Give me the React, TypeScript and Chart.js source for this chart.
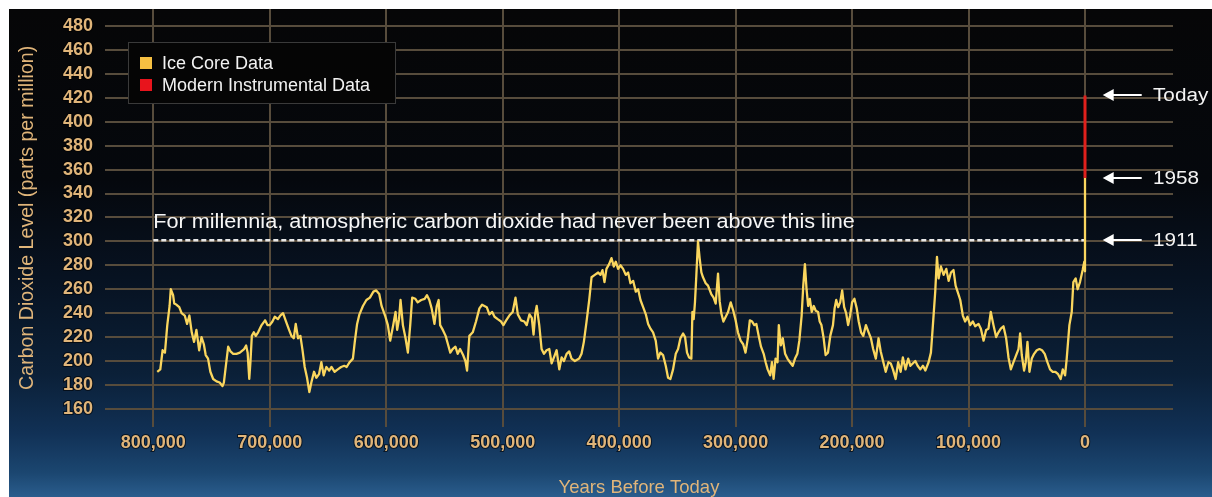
import React, { useEffect, useRef } from "react";
import { Chart, registerables } from "chart.js";

Chart.register(...registerables);

// ---------- DATA ----------
const iceYears = [
  796600, 794000, 792000, 790000, 788000, 786000, 785000, 783000, 782000, 780000,
  777700, 775700, 773000, 771000, 769000, 767000, 765000, 763000, 760600, 758600,
  756600, 755000, 753000, 751000, 748600, 745700, 743000, 740600, 739400, 737700,
  735700, 733700, 731400, 728600, 725700, 722000, 720300, 719000, 717600, 716600,
  715400, 713700, 712000, 710000, 707000, 704000, 702000, 700000, 697700, 695700,
  693000, 691000, 688600, 686000, 683400, 681400, 679400, 677700, 675700, 673700,
  672000, 670000, 668000, 666000, 664300, 662000, 660000, 657700, 655700, 653700,
  651400, 649000, 647000, 644300, 641600, 638700, 636000, 634000, 631400, 628600,
  627000, 625000, 623000, 620000, 617000, 614000, 611000, 608600, 606000, 604000,
  601000, 598600, 596600, 594000, 592000, 590600, 589000, 587700, 585700, 583400,
  581400, 579400, 577700, 575000, 573000, 570000, 567000, 565000, 563000, 561000,
  558600, 556600, 555000, 553700, 551400, 549000, 547000, 545000, 543000, 540600,
  538600, 536600, 534000, 532000, 530600, 528600, 525700, 522900, 520000, 517700,
  515700, 513700, 511400, 509000, 507000, 504300, 501400, 499400, 497000, 494300,
  491400, 489000, 487000, 484300, 481400, 479400, 477000, 475000, 473500, 472000,
  470800, 468600, 466600, 464600, 462300, 460000, 458000, 456000, 453700, 451400,
  449400, 447400, 445100, 442900, 440900, 438000, 434300, 432300, 430300, 428000,
  425700, 423700, 420900, 418000, 416000, 414300, 412600, 410900, 408600, 406600,
  404600, 402900, 400900, 398900, 396600, 394300, 392300, 390300, 388000, 385700,
  383700, 381700, 379400, 377100, 375100, 373100, 370900, 368600, 366600, 364600,
  362300, 360000, 358000, 356000, 353700, 351400, 349400, 347400, 345100, 343400,
  341700, 340000, 338000, 337100, 336000, 334900, 333700, 332300, 330900, 329400,
  328000, 325700, 323700, 320900, 318900, 317100, 315100, 313700, 312300, 310500,
  308500, 306500, 304200, 302000, 300000, 298000, 295700, 293500, 291500, 289500,
  287800, 285800, 283900, 282200, 280200, 278200, 275900, 274200, 272500, 270300,
  268800, 267400, 265700, 264000, 262900, 261200, 259500, 257500, 255500, 253300,
  251000, 249000, 247000, 245300, 243300, 241900, 240500, 239100, 237700, 236300,
  234600, 232900, 231200, 229200, 227800, 226300, 224400, 222700, 220700, 218700,
  216400, 215000, 213600, 211900, 210200, 208500, 206800, 205100, 203400, 201700,
  200000, 198000, 196000, 194300, 192300, 190400, 188100, 185800, 183800, 181900,
  179600, 177300, 175400, 173400, 171100, 168800, 166800, 164900, 162600, 160400,
  158300, 156400, 154100, 151800, 149900, 145700, 143700, 141400, 139100, 137100,
  134300, 132300, 130600, 128600, 127100, 125700, 123700, 121400, 119100, 117100,
  115100, 112900, 111100, 109400, 107100, 104900, 102900, 100900, 98600, 96300,
  94300, 91400, 89400, 87100, 84900, 82900, 80900, 78600, 76300, 74300,
  72300, 70000, 67700, 65700, 63700, 61400, 59100, 57100, 55700, 54300,
  52300, 50900, 49400, 47700, 45700, 43700, 41400, 39100, 36900, 34600,
  32300, 30000, 27700, 25400, 23100, 20900, 19100, 17100, 15700, 13400,
  11400, 10000, 8000, 6300, 4300, 2000, 600, 0, 0,
];
const icePpm = [
  191, 193, 209, 207, 230, 246, 260, 255, 248, 247,
  245, 240, 238, 231, 238, 224, 216, 226, 209, 220,
  214, 205, 202, 191, 185, 183, 182, 179, 182, 196,
  212, 208, 206, 206, 207, 210, 213, 207, 185, 199,
  221, 224, 221, 224, 230, 234, 230, 230, 233, 237,
  235, 238, 240, 233, 226, 221, 219, 231, 219, 221,
  210, 195, 186, 174, 182, 191, 186, 189, 199, 188,
  195, 192, 195, 191, 193, 195, 196, 195, 199, 202,
  216, 231, 239, 246, 251, 253, 258, 259, 256, 246,
  238, 230, 217, 230, 241, 226, 235, 251, 230, 219,
  207, 230, 253, 252, 249, 251, 252, 255, 251, 244,
  231, 246, 251, 230, 226, 221, 214, 207, 210, 212,
  206, 210, 205, 200, 192, 221, 224, 233, 244, 247,
  246, 245, 239, 241, 237, 235, 233, 230, 234, 238,
  241, 253, 239, 234, 233, 230, 239, 236, 222, 240,
  246, 230, 210, 206, 209, 210, 198, 203, 209, 193,
  203, 200, 206, 208, 202, 200, 202, 206, 216, 233,
  251, 270, 272, 274, 272, 276, 266, 277, 281, 286,
  279, 283, 277, 280, 277, 272, 274, 265, 267, 258,
  260, 251, 245, 239, 231, 227, 224, 217, 202, 207,
  205, 196, 186, 185, 193, 206, 210, 219, 223, 220,
  207, 203, 202, 241, 235, 249, 272, 300, 286, 274,
  270, 265, 263, 256, 253, 248, 273, 250, 240, 233,
  237, 241, 249, 242, 234, 224, 217, 214, 207, 219,
  234, 233, 230, 231, 221, 212, 206, 199, 193, 188,
  199, 185, 202, 199, 230, 213, 219, 206, 202, 199,
  196, 202, 206, 217, 238, 263, 281, 260, 246, 252,
  241, 246, 242, 241, 233, 230, 219, 205, 207, 221,
  230, 244, 251, 245, 249, 259, 245, 240, 230, 238,
  249, 252, 244, 233, 224, 221, 230, 224, 219, 210,
  202, 219, 208, 200, 191, 199, 198, 193, 185, 199,
  191, 203, 193, 202, 196, 200, 196, 193, 196, 192,
  199, 207, 230, 258, 287, 269, 279, 272, 277, 267,
  274, 276, 263, 258, 251, 238, 233, 237, 230, 233,
  229, 231, 227, 217, 226, 227, 241, 230, 220, 224,
  227, 229, 219, 203, 193, 199, 205, 210, 223, 205,
  192, 199, 216, 191, 202, 206, 209, 210, 209, 206,
  199, 193, 191, 191, 189, 185, 193, 188, 202, 230,
  241, 266, 269, 260, 266, 276, 283, 275, 353,
];
const modernYears = [0, 0];
const modernPpm = [353, 422];
const thresholdYears = [800000, 0];
const thresholdPpm = [301, 301];

const yTickValues = [160, 180, 200, 220, 240, 260, 280, 300, 320, 340, 360, 380, 400, 420, 440, 460, 480];
const xTickValues = [800000, 700000, 600000, 500000, 400000, 300000, 200000, 100000, 0];

const markerLabels = ["Today", "1958", "1911"];
const markerPpm = [422, 353, 301];

const noteText = "For millennia, atmospheric carbon dioxide had never been above this line";
const xTitle = "Years Before Today";
const yTitle = "Carbon Dioxide Level (parts per million)";
const seriesLabels = ["Ice Core Data", "Modern Instrumental Data"];

// ---------- STYLE ----------
const FONT = "'Liberation Sans', Arial, Helvetica, sans-serif";
const TAN = "#e0b57a";
const GRID = "#574c3c";
const YELLOW = "#fad65e";
const RED = "#e0201c";
const W = 1203;
const H = 488;

const toPoints = (xs: number[], ys: number[]) => xs.map((x, i) => ({ x, y: ys[i] }));

const backgroundPlugin = {
  id: "bgGradient",
  beforeDraw(chart: any) {
    const { ctx, width, height } = chart;
    const g = ctx.createLinearGradient(0, 0, 0, height);
    g.addColorStop(0, "#060607");
    g.addColorStop(0.35, "#05080d");
    g.addColorStop(0.55, "#071221");
    g.addColorStop(0.75, "#0b2038");
    g.addColorStop(0.87, "#113156");
    g.addColorStop(0.95, "#1b4670");
    g.addColorStop(1, "#2a5d8d");
    ctx.save();
    ctx.fillStyle = g;
    ctx.fillRect(0, 0, width, height);
    ctx.restore();
  },
};

const drawScaledText = (ctx: any, text: string, x: number, y: number, sx: number) => {
  ctx.save();
  ctx.translate(x, y);
  ctx.scale(sx, 1);
  ctx.fillText(text, 0, 0);
  ctx.restore();
};

const annotationPlugin = {
  id: "annotations",
  afterDatasetsDraw(chart: any) {
    const { ctx } = chart;
    const xs = chart.scales.x;
    const ys = chart.scales.y;
    ctx.save();
    ctx.fillStyle = "#f6f6f6";
    ctx.font = `19.5px ${FONT}`;
    ctx.textBaseline = "middle";
    ctx.textAlign = "left";
    drawScaledText(ctx, noteText, xs.getPixelForValue(800000), ys.getPixelForValue(315.6), 1.11);

    const tipX = xs.getPixelForValue(-15200);
    const tailX = xs.getPixelForValue(-48700);
    const textX = xs.getPixelForValue(-58400);
    ctx.font = `18px ${FONT}`;
    markerLabels.forEach((lab, i) => {
      const y = Math.round(ys.getPixelForValue(markerPpm[i]));
      ctx.strokeStyle = "#ffffff";
      ctx.fillStyle = "#ffffff";
      ctx.lineWidth = 2;
      ctx.beginPath();
      ctx.moveTo(tipX + 8, y);
      ctx.lineTo(tailX, y);
      ctx.stroke();
      ctx.beginPath();
      ctx.moveTo(tipX, y);
      ctx.lineTo(tipX + 11, y - 6);
      ctx.lineTo(tipX + 11, y + 6);
      ctx.closePath();
      ctx.fill();
      ctx.fillStyle = "#f4f4f4";
      drawScaledText(ctx, lab, textX, y + 1, 1.15);
    });
    ctx.restore();
  },
  afterDraw(chart: any) {
    const { ctx } = chart;
    const bx = 119, by = 33, bw = 268, bh = 62;
    ctx.save();
    ctx.fillStyle = "#050505";
    ctx.fillRect(bx, by, bw, bh);
    ctx.strokeStyle = "#3a3a3a";
    ctx.lineWidth = 1;
    ctx.strokeRect(bx + 0.5, by + 0.5, bw - 1, bh - 1);
    const colors = ["#f6c042", "#e8141c"];
    ctx.font = `18px ${FONT}`;
    ctx.textBaseline = "middle";
    ctx.textAlign = "left";
    seriesLabels.forEach((lab, i) => {
      const cy = by + 21 + i * 22;
      ctx.fillStyle = colors[i];
      ctx.fillRect(bx + 12, cy - 6, 12, 12);
      ctx.fillStyle = "#f2f2f2";
      ctx.fillText(lab, bx + 34, cy + 1);
    });
    ctx.restore();
  },
};

export default function App() {
  const canvasRef = useRef<HTMLCanvasElement | null>(null);

  useEffect(() => {
    document.body.style.overflow = "hidden";
    const canvas = canvasRef.current;
    if (!canvas) return;
    const chart = new Chart(canvas, {
      type: "line",
      data: {
        datasets: [
          {
            label: seriesLabels[0],
            data: toPoints(iceYears, icePpm),
            borderColor: YELLOW,
            borderWidth: 2.3,
            pointRadius: 0,
            tension: 0,
            borderJoinStyle: "round",
          },
          {
            label: seriesLabels[1],
            data: toPoints(modernYears, modernPpm),
            borderColor: RED,
            borderWidth: 3,
            pointRadius: 0,
          },
          {
            label: "threshold",
            data: toPoints(thresholdYears, thresholdPpm),
            borderColor: "#e8e8e8",
            borderWidth: 2.5,
            borderDash: [5, 3],
            pointRadius: 0,
          },
        ],
      },
      options: {
        animation: false,
        responsive: false,
        devicePixelRatio: 1,
        layout: { padding: { left: 0, right: 39, top: 0, bottom: 0 } },
        plugins: { legend: { display: false }, tooltip: { enabled: false } },
        scales: {
          x: {
            type: "linear",
            reverse: true,
            min: -75560,
            max: 841470,
            afterBuildTicks: (s: any) => {
              s.ticks = xTickValues.map((v) => ({ value: v }));
            },
            afterFit: (s: any) => {
              s.height = 70.3;
              s.paddingLeft = 0;
              s.paddingRight = 0;
            },
            ticks: {
              color: TAN,
              font: { family: FONT, size: 18, weight: "bold" },
              padding: 5.5,
              maxRotation: 0,
              autoSkip: false,
              textStrokeColor: "rgba(0,0,0,0.6)",
              textStrokeWidth: 2,
              callback: (v: any) => Number(v).toLocaleString("en-US"),
            },
            grid: { color: GRID, lineWidth: 2, drawTicks: false },
            border: { display: false },
            title: {
              display: true,
              text: xTitle,
              color: TAN,
              font: { family: FONT, size: 18.5, lineHeight: 1 },
              padding: { top: 24.7, bottom: 0 },
            },
          },
          y: {
            type: "linear",
            min: 145.1,
            max: 494.2,
            afterBuildTicks: (s: any) => {
              s.ticks = yTickValues.map((v) => ({ value: v }));
            },
            afterFit: (s: any) => {
              s.width = 96;
              s.paddingTop = 0;
              s.paddingBottom = 0;
            },
            ticks: {
              color: TAN,
              font: { family: FONT, size: 18, weight: "bold" },
              padding: 12,
              autoSkip: false,
              textStrokeColor: "rgba(0,0,0,0.6)",
              textStrokeWidth: 2,
            },
            grid: { color: GRID, lineWidth: 2, drawTicks: false },
            border: { display: false },
            title: {
              display: true,
              text: yTitle,
              color: TAN,
              font: { family: FONT, size: 19.6, lineHeight: 1.2 },
              padding: { top: 6.8, bottom: 10 },
            },
          },
        },
      },
      plugins: [backgroundPlugin, annotationPlugin],
    } as any);
    return () => chart.destroy();
  }, []);

  return (
    <div
      style={{
        position: "fixed",
        left: 9,
        top: 9,
        width: W,
        height: H,
        overflow: "hidden",
        background: "#000",
      }}
    >
      <canvas ref={canvasRef} width={W} height={H} style={{ display: "block", width: W, height: H }} />
    </div>
  );
}
